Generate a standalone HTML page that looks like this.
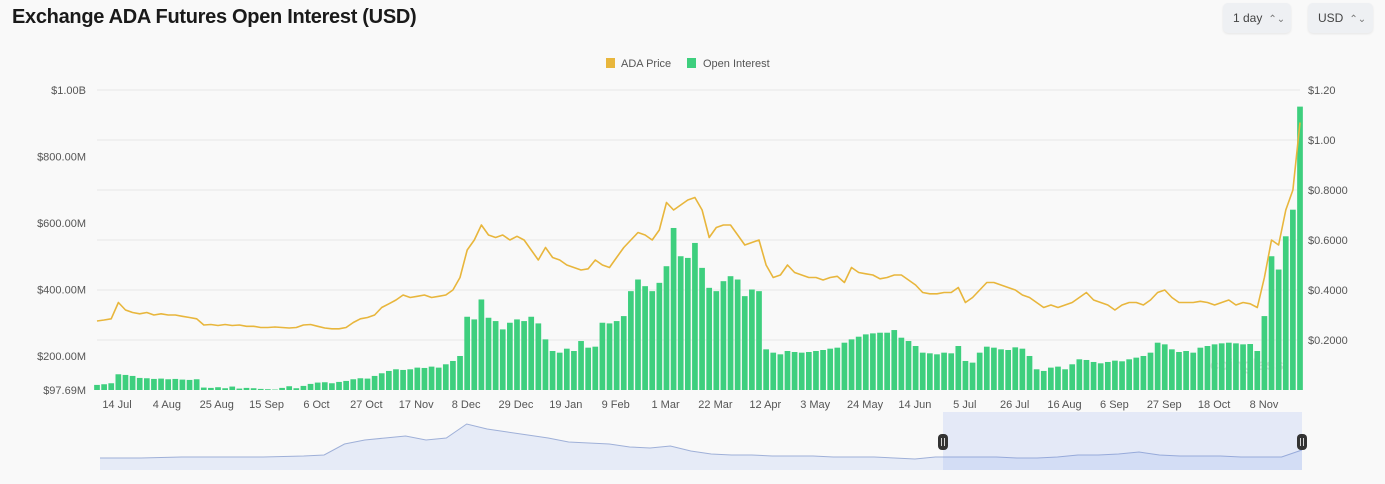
<!DOCTYPE html>
<html><head><meta charset="utf-8">
<style>
html,body{margin:0;padding:0;background:#f9f9f9;width:1385px;height:484px;overflow:hidden;font-family:"Liberation Sans",sans-serif;}
.title{position:absolute;left:12px;top:6px;font-size:20px;font-weight:bold;color:#1a1a1a;letter-spacing:-0.3px}
.btn{position:absolute;top:3px;height:30px;border-radius:5px;background:#eef0f3;color:#444;font-size:12px;line-height:30px;box-sizing:border-box;padding-left:10px;box-shadow:0 1px 2px rgba(0,0,0,0.08)}
.btn span{font-size:10px;margin-left:6px;color:#777}
svg{position:absolute;left:0;top:0}
</style></head><body>
<div class="title">Exchange ADA Futures Open Interest (USD)</div>
<div class="btn" style="left:1223px;width:68px">1 day<span>⌃⌄</span></div>
<div class="btn" style="left:1308px;width:65px">USD<span>⌃⌄</span></div>
<svg id="chart" width="1385" height="484"></svg>
<script>
const priceValues=[.276,.28,.285,.35,.32,.31,.305,.31,.30,.305,.30,.30,.295,.29,.285,.26,.262,.258,.262,.258,.26,.255,.255,.25,.25,.252,.25,.248,.25,.26,.262,.255,.248,.245,.245,.25,.27,.285,.29,.30,.33,.345,.36,.38,.37,.375,.38,.37,.375,.38,.40,.45,.56,.60,.66,.62,.61,.62,.60,.615,.60,.56,.52,.57,.53,.52,.50,.49,.48,.485,.52,.50,.49,.53,.57,.60,.63,.62,.60,.64,.75,.72,.74,.76,.77,.72,.61,.65,.66,.66,.62,.58,.59,.60,.50,.45,.46,.50,.47,.46,.45,.45,.44,.45,.455,.43,.49,.47,.465,.46,.445,.45,.46,.46,.44,.42,.39,.385,.385,.39,.39,.41,.35,.37,.40,.43,.43,.42,.41,.40,.38,.37,.35,.33,.34,.33,.34,.35,.37,.39,.36,.35,.34,.32,.34,.35,.35,.34,.36,.39,.40,.37,.35,.35,.35,.355,.35,.34,.35,.36,.34,.35,.345,.33,.45,.60,.58,.72,.80,1.07];
const oiValues=[113,115,118,145,143,140,134,133,131,132,130,131,129,128,130,105,104,106,103,108,102,104,103,101,100,99,104,109,103,110,116,120,121,118,122,125,130,133,132,140,148,155,160,158,160,165,164,168,165,175,185,200,318,310,370,315,305,280,300,310,305,318,298,250,215,210,222,215,245,225,228,300,298,305,320,395,430,410,395,420,470,585,500,495,540,465,405,395,425,440,430,380,400,395,220,210,205,215,212,210,212,215,218,222,225,240,250,258,265,268,270,270,278,255,245,230,210,208,205,210,208,230,185,180,210,228,225,220,218,226,222,200,160,155,165,168,160,175,190,188,182,178,182,186,184,190,195,200,210,240,235,220,212,215,210,225,230,235,238,240,238,235,236,215,320,500,460,560,640,950];
const dateLabels=["14 Jul","4 Aug","25 Aug","15 Sep","6 Oct","27 Oct","17 Nov","8 Dec","29 Dec","19 Jan","9 Feb","1 Mar","22 Mar","12 Apr","3 May","24 May","14 Jun","5 Jul","26 Jul","16 Aug","6 Sep","27 Sep","18 Oct","8 Nov"];
const leftTicks=[97.69,200,400,600,800,1000];
const leftTickLabels=["$97.69M","$200.00M","$400.00M","$600.00M","$800.00M","$1.00B"];
const rightTicks=[0.2,0.4,0.6,0.8,1.0,1.2];
const rightTickLabels=["$0.2000","$0.4000","$0.6000","$0.8000","$1.00","$1.20"];
const navValues=[12,12,12,12.5,13,13,13,13,13,13.5,14,15,26,30,32,34,30,32,46,41,38,35,32,28,27,26,23,22,24,19,16,15,15,14,14,14,13,13,13,12,11,13,13,13,13,12,12,13,15,15,16,18,15,14,14,14,13,13,13,20];

const NS="http://www.w3.org/2000/svg";
const svg=document.getElementById('chart');
function mk(tag,attrs,parent){const e=document.createElementNS(NS,tag);for(const k in attrs)e.setAttribute(k,attrs[k]);(parent||svg).appendChild(e);return e;}
const X0=97,X1=1300,YB=390;
const xIdx=i=>X0+i*(X1-X0)/(priceValues.length-1);
const yL=v=>YB-(v-97.69)*300/902.31;
const yR=p=>YB-p*250;

rightTicks.forEach((t,i)=>{const g=mk('line',{x1:X0,x2:X1,y1:yR(t),y2:yR(t),stroke:'#e8e8e8','stroke-width':1});

});
leftTicks.forEach((t,i)=>{const tx=mk('text',{x:86,y:yL(t)+4,'text-anchor':'end','font-size':11,fill:'#555'});tx.textContent=leftTickLabels[i];

});
rightTicks.forEach((t,i)=>{const tx=mk('text',{x:1308,y:yR(t)+4,'font-size':11,fill:'#555'});tx.textContent=rightTickLabels[i];

});
dateLabels.forEach((d,i)=>{const x=117+i*(1264-117)/(dateLabels.length-1);const tx=mk('text',{x:x,y:408,'text-anchor':'middle','font-size':11,fill:'#555'});tx.textContent=d;

});

const wm=mk('text',{x:1210,y:370,'font-size':16,fill:'#d8dcd8','font-weight':'bold'});wm.textContent='coinglass';



const step=(X1-X0)/(priceValues.length-1);
oiValues.forEach((v,i)=>{const y=yL(v);const b=mk('rect',{x:xIdx(i)-step*0.4,y:y,width:step*0.8,height:YB-y,fill:'#3ecf7e'});

});

const pl=mk('polyline',{points:priceValues.map((p,i)=>xIdx(i).toFixed(1)+','+yR(p).toFixed(1)).join(' '),fill:'none',stroke:'#e8b63c','stroke-width':1.6,'stroke-linejoin':'round'});



const lg=mk('g',{});


const l1=mk('rect',{x:606,y:58,width:9,height:10,fill:'#e8b63c'},lg);


const t1=mk('text',{x:621,y:67,'font-size':11,fill:'#555'},lg);t1.textContent='ADA Price';


const l2=mk('rect',{x:687,y:58,width:9,height:10,fill:'#3ecf7e'},lg);


const t2=mk('text',{x:703,y:67,'font-size':11,fill:'#555'},lg);t2.textContent='Open Interest';



const NX0=100,NX1=1302,NB=470;
const nx=i=>NX0+i*(NX1-NX0)/(navValues.length-1);
const pts=navValues.map((v,i)=>nx(i).toFixed(1)+','+(NB-v).toFixed(1));
const na=mk('polygon',{points:NX0+','+NB+' '+pts.join(' ')+' '+NX1+','+NB,fill:'#e6ebf7'});


const nl=mk('polyline',{points:pts.join(' '),fill:'none',stroke:'#9fb0d8','stroke-width':1});


const sel=mk('rect',{x:943,y:412,width:359,height:58,fill:'rgba(110,140,235,0.15)'});


[943,1302].forEach(x=>{const h=mk('rect',{x:x-5,y:434,width:10,height:16,rx:4,fill:'#333'});


mk('line',{x1:x-1.5,x2:x-1.5,y1:438,y2:446,stroke:'#fff','stroke-width':0.8});
mk('line',{x1:x+1.5,x2:x+1.5,y1:438,y2:446,stroke:'#fff','stroke-width':0.8});});
</script>
</body></html>
